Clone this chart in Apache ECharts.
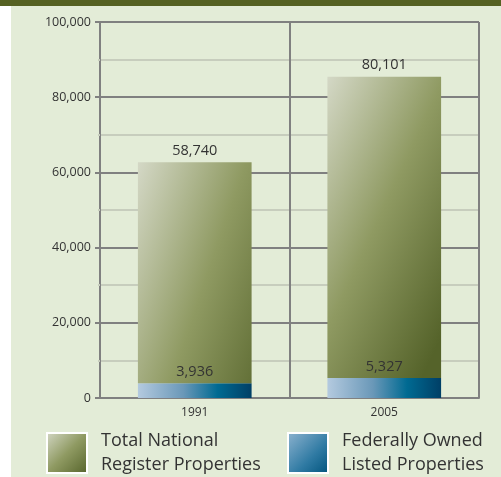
<!DOCTYPE html>
<html>
<head>
<meta charset="utf-8">
<script src="https://cdn.jsdelivr.net/npm/echarts@6/dist/echarts.min.js"></script>
<style>
  html, body { margin: 0; padding: 0; background: #fff; }
  #chart { width: 501px; height: 477px; }
</style>
</head>
<body>
<div id="chart"></div>
<script>
const years = ['1991', '2005']
const totalRegister = [58740, 80101]
const federalListed = [3936, 5327]
const yTicks = { min: 0, max: 100000, interval: 20000 }

const fmt = v => String(v).replace(/\B(?=(\d{3})+(?!\d))/g, ',')

const FONT = 'Open Sans'
const gridGray = '#808080'
const minorGray = '#c7cdbd'

const greenStops = [
  { offset: 0, color: '#d4d8c6' },
  { offset: 0.5, color: '#8f9a62' },
  { offset: 1, color: '#55632a' }
]
// tilted so the light corner is top-left and the colour bands run corner to corner
const greenFill = new echarts.graphic.LinearGradient(0, 0, 1.7, 0.3, greenStops)
const greenIcon = new echarts.graphic.LinearGradient(0, 0, 1, 1, greenStops)
const blueFill = new echarts.graphic.LinearGradient(0, 0, 1, 0, [
  { offset: 0, color: '#b4cadf' },
  { offset: 0.4, color: '#6a98b8' },
  { offset: 0.7, color: '#006a92' },
  { offset: 1, color: '#003f66' }
])
const blueIcon = new echarts.graphic.LinearGradient(0, 0, 1, 1, [
  { offset: 0, color: '#8fb4d0' },
  { offset: 0.6, color: '#2f7aa3' },
  { offset: 1, color: '#00537c' }
])

const legendNames = {
  'Total National Register Properties': 'Total National\nRegister Properties',
  'Federally Owned Listed Properties': 'Federally Owned\nListed Properties'
}

const legendBase = {
  orient: 'horizontal',
  top: 426,
  padding: 0,
  itemWidth: 40,
  itemHeight: 40,
  icon: 'rect',
  selectedMode: false,
  itemStyle: { borderColor: '#fff', borderWidth: 2 },
  formatter: name => legendNames[name],
  textStyle: {
    fontFamily: FONT,
    fontSize: 18,
    color: '#333',
    lineHeight: 24,
    padding: [0, 0, 6, 9]
  }
}

const chart = echarts.init(document.getElementById('chart'))
chart.setOption({
  animation: false,
  backgroundColor: '#fff',
  graphic: [
    { type: 'rect', z: -10, silent: true, shape: { x: 11, y: 6, width: 490, height: 471 }, style: { fill: '#e3ecd7' } },
    { type: 'rect', z: -10, silent: true, shape: { x: 0, y: 0, width: 501, height: 6 }, style: { fill: '#556122' } }
  ],
  legend: [
    Object.assign({}, legendBase, { left: 46, data: [{ name: 'Total National Register Properties', itemStyle: { color: greenIcon } }] }),
    Object.assign({}, legendBase, { left: 287, data: [{ name: 'Federally Owned Listed Properties', itemStyle: { color: blueIcon } }] })
  ],
  grid: { left: 100, right: 22, top: 22, bottom: 79 },
  xAxis: {
    type: 'category',
    data: years,
    axisLine: { lineStyle: { color: gridGray, width: 2 } },
    axisTick: { show: false },
    axisLabel: { fontFamily: FONT, fontSize: 12, color: '#333', margin: 9 },
    splitLine: { show: true, interval: 0, lineStyle: { color: gridGray, width: 2 } }
  },
  yAxis: {
    type: 'value',
    min: yTicks.min,
    max: yTicks.max,
    interval: yTicks.interval,
    axisLine: { show: true, lineStyle: { color: gridGray, width: 2 } },
    axisTick: { show: true, length: 5, lineStyle: { color: gridGray, width: 2 } },
    axisLabel: { fontFamily: FONT, fontSize: 12.5, color: '#333', margin: 9, formatter: v => fmt(v) },
    splitLine: { show: true, lineStyle: { color: gridGray, width: 2 } },
    minorTick: { show: true, splitNumber: 2, length: 2, lineStyle: { color: minorGray, width: 2 } },
    minorSplitLine: { show: true, lineStyle: { color: minorGray, width: 2 } }
  },
  series: [
    {
      name: 'Federally Owned Listed Properties',
      type: 'bar',
      stack: 'props',
      barWidth: '60%',
      data: federalListed,
      itemStyle: { color: blueFill },
      label: { show: true, position: 'top', distance: 4, fontFamily: FONT, fontSize: 14.5, color: '#333', formatter: p => fmt(p.value) }
    },
    {
      name: 'Total National Register Properties',
      type: 'bar',
      stack: 'props',
      barWidth: '60%',
      data: totalRegister,
      itemStyle: { color: greenFill },
      label: { show: true, position: 'top', distance: 4, fontFamily: FONT, fontSize: 14.5, color: '#333', formatter: p => fmt(p.value) }
    }
  ]
})
</script>
</body>
</html>
